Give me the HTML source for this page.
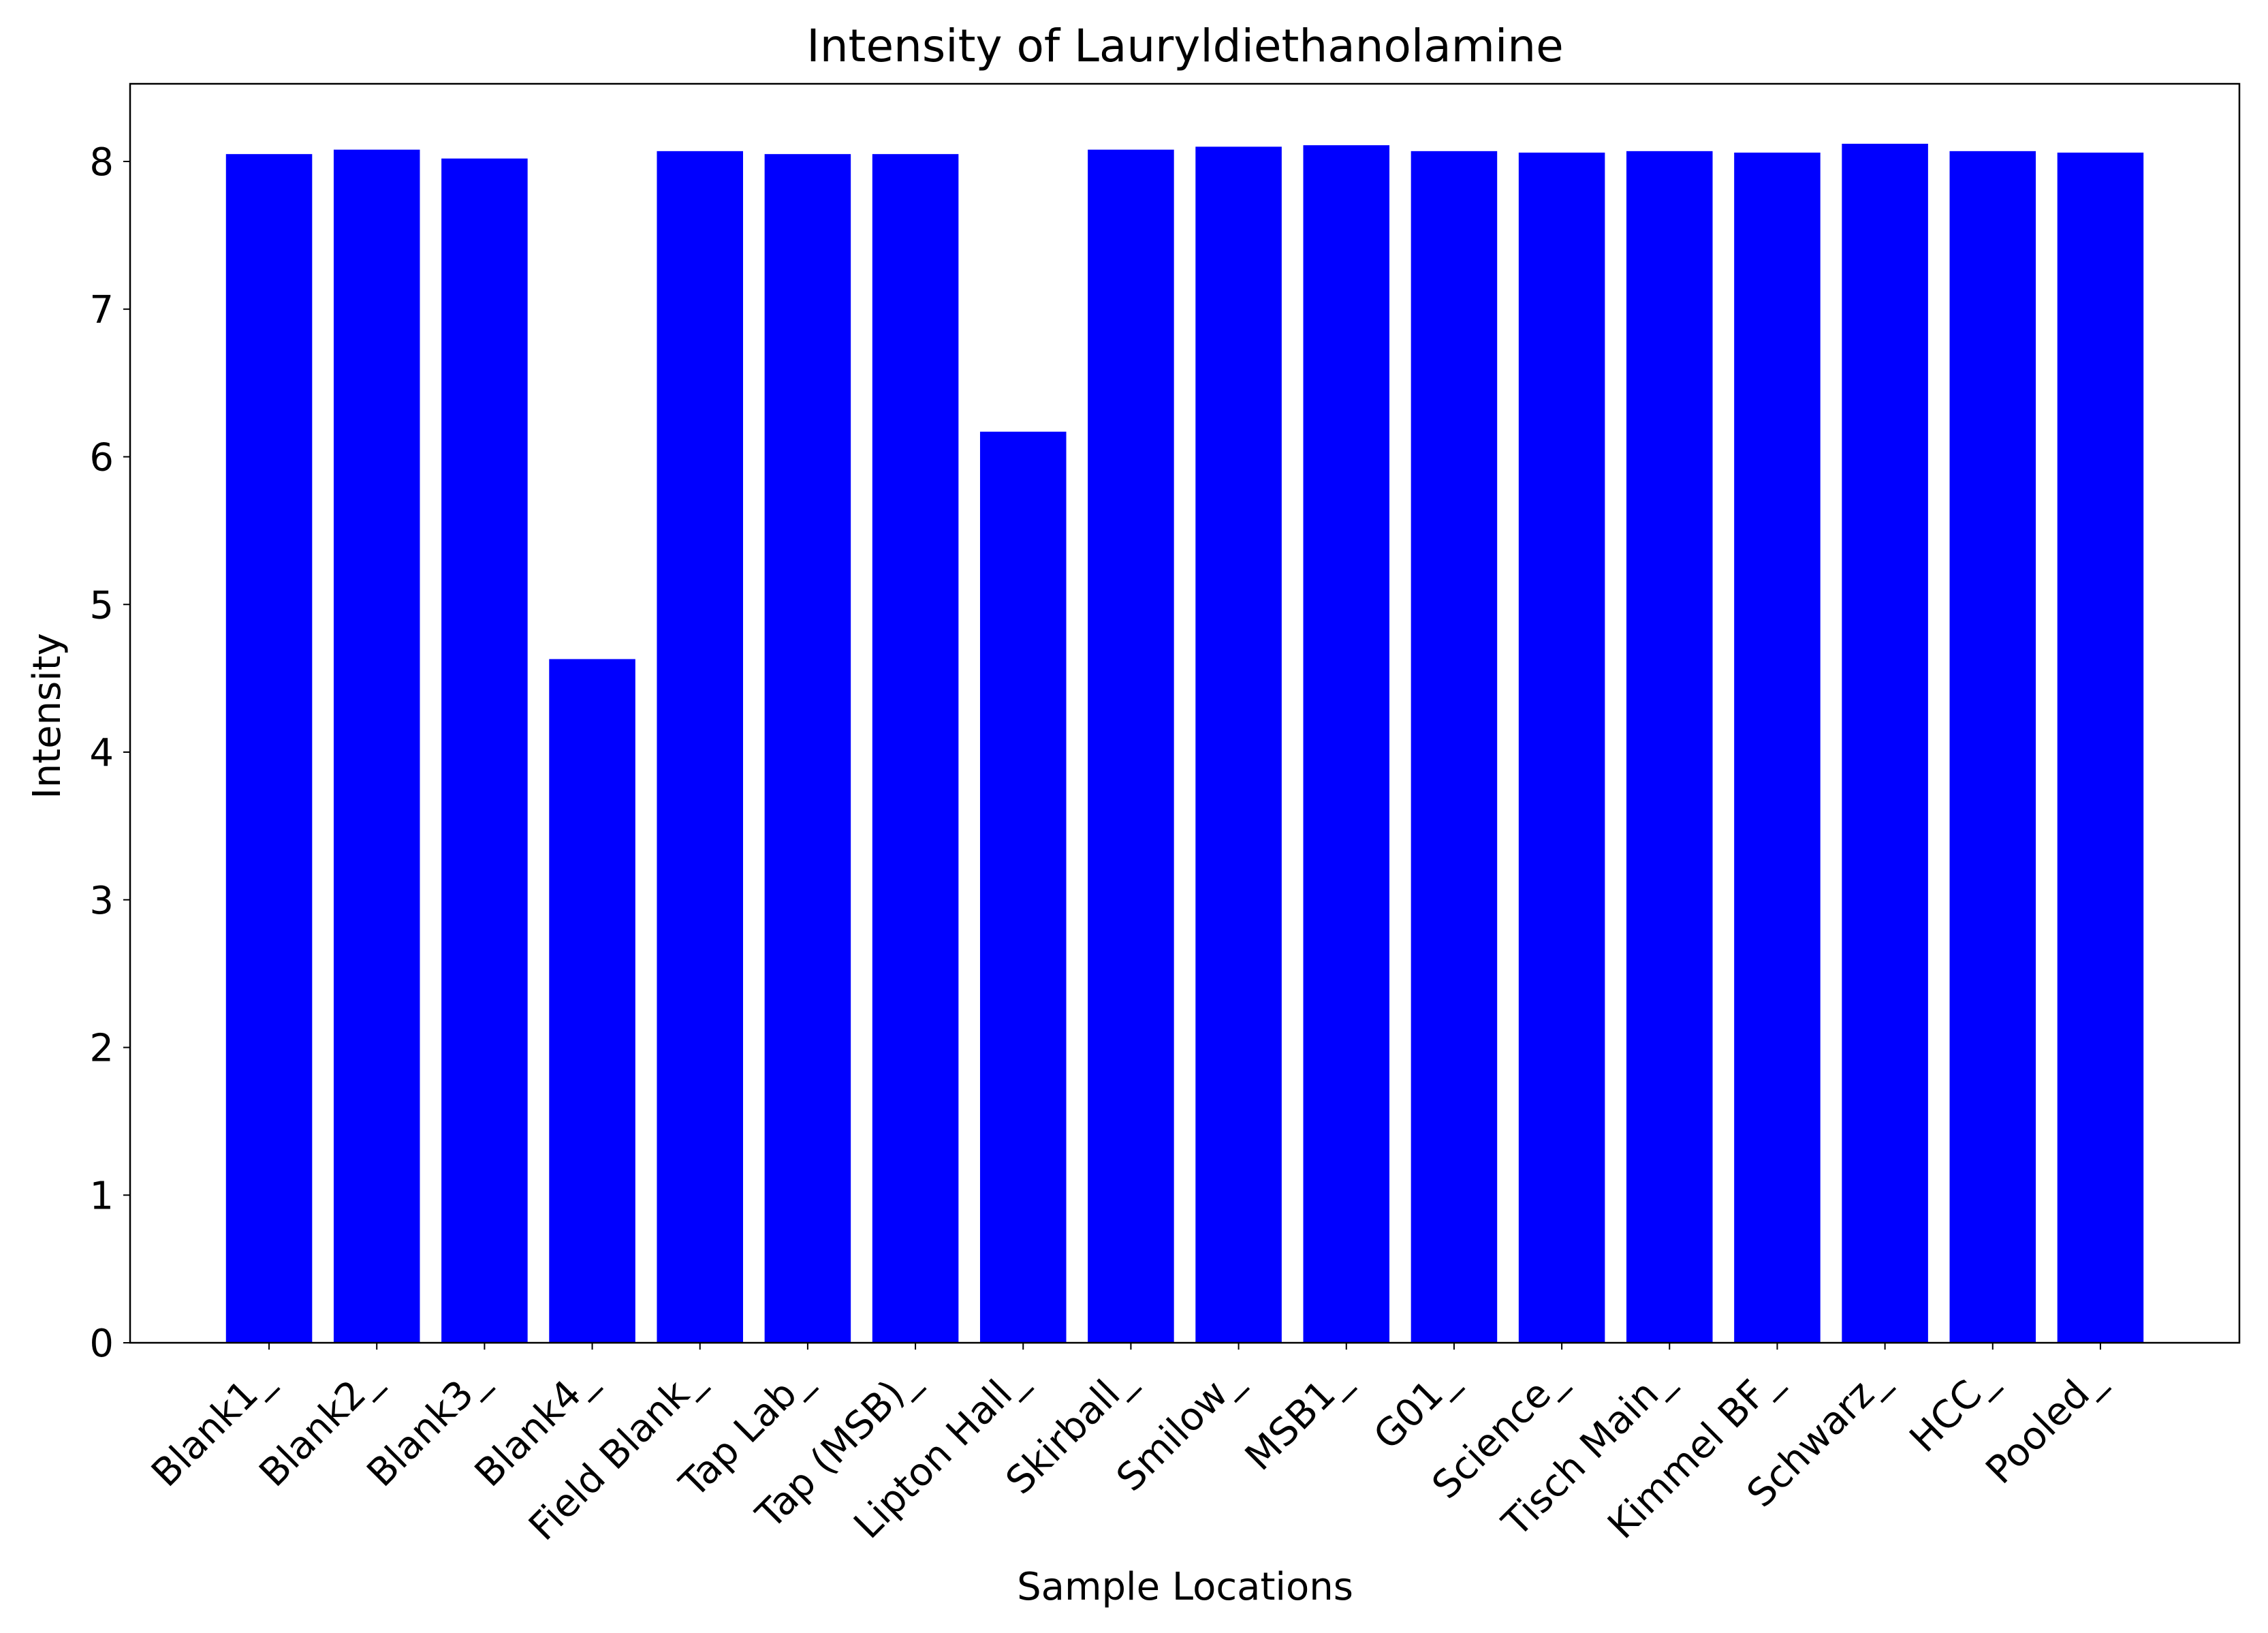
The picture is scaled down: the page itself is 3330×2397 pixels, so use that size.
<!DOCTYPE html>
<html><head><meta charset="utf-8"><style>
html,body{margin:0;padding:0;background:#fff;}
svg{display:block;font-family:"DejaVu Sans","Liberation Sans",sans-serif;}
</style></head><body>
<svg id="chart" width="3330" height="2397" viewBox="0 0 3330 2397" xmlns="http://www.w3.org/2000/svg">
<rect width="3330" height="2397" fill="#fff"/>
<text x="1740" y="90" font-size="66" text-anchor="middle">Intensity of Lauryldiethanolamine</text>
<g id="bars"></g>
<g id="xticks"></g>
<g id="yticks"></g>
<rect x="191" y="123" width="3097" height="1848" fill="none" stroke="#000" stroke-width="2.5"/>
<text x="1740" y="2348" font-size="56" text-anchor="middle">Sample Locations</text>
<text transform="translate(88,1051) rotate(-90)" font-size="56" text-anchor="middle">Intensity</text>
</svg>
<script>
const categories = ["Blank1_","Blank2_","Blank3_","Blank4_","Field Blank_","Tap Lab_","Tap (MSB)_","Lipton Hall_","Skirball_","Smilow_","MSB1_","G01_","Science_","Tisch Main_","Kimmel BF_","Schwarz_","HCC_","Pooled_"];
const values = [8.05,8.08,8.02,4.63,8.07,8.05,8.05,6.17,8.08,8.10,8.11,8.07,8.06,8.07,8.06,8.12,8.07,8.06];
const yTickLabels = ["0","1","2","3","4","5","6","7","8"];

const L=191,R=3288,T=123,B=1971;
const n=categories.length;
const xmin=-0.4-0.05*(n-0.2), xmax=n-1+0.4+0.05*(n-0.2);
const ymax=Math.max(...values)*1.05;
const xs=v=>L+(v-xmin)/(xmax-xmin)*(R-L);
const ys=v=>B-v/ymax*(B-T);
const NS="http://www.w3.org/2000/svg";
const bars=document.getElementById('bars'),xt=document.getElementById('xticks'),yt=document.getElementById('yticks');
function mk(tag,attrs,parent){const e=document.createElementNS(NS,tag);for(const k in attrs)e.setAttribute(k,attrs[k]);parent.appendChild(e);return e;}
categories.forEach((c,i)=>{
  const x0=xs(i-0.4),x1=xs(i+0.4),y=ys(values[i]);
  const r=mk('rect',{x:x0,y:y,width:x1-x0,height:B-y,fill:'#0000ff'},bars);
  
  
  const cx=xs(i);
  const tk=mk('line',{x1:cx,x2:cx,y1:B,y2:B+10,stroke:'#000','stroke-width':2},xt);
  
  
  const t=mk('text',{transform:`translate(${cx-22},${B+30}) rotate(-45)`,'font-size':56,'text-anchor':'end','dominant-baseline':'hanging'},xt);
  t.textContent=c;
  
  
});
yTickLabels.forEach(s=>{
  const y=ys(parseFloat(s));
  const tk=mk('line',{x1:L-10,x2:L,y1:y,y2:y,stroke:'#000','stroke-width':2},yt);
  
  
  const t=mk('text',{x:L-24,y:y+20,'font-size':56,'text-anchor':'end'},yt);
  t.textContent=s;
  
  
});
</script>
</body></html>
